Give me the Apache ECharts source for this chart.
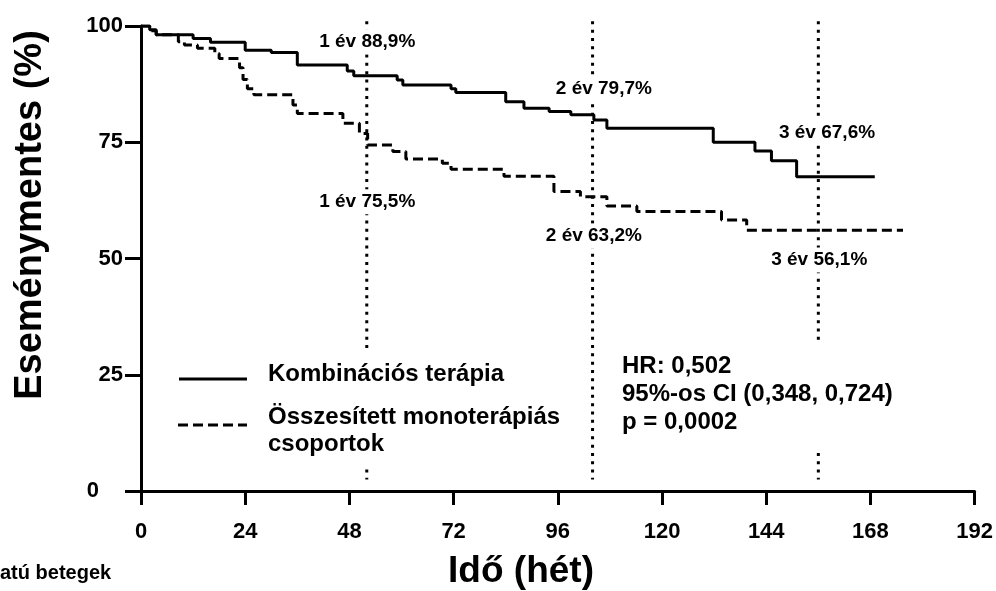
<!DOCTYPE html>
<html>
<head>
<meta charset="utf-8">
<script src="https://cdn.jsdelivr.net/npm/echarts@6/dist/echarts.min.js"></script>
<style>
html,body{margin:0;padding:0;background:#fff;}
#chart{width:996px;height:591px;}
</style>
</head>
<body>
<div id="chart"></div>
<script>
// ---- data ----
const xTicks = [0, 24, 48, 72, 96, 120, 144, 168, 192];
const yTicks = [0, 25, 50, 75, 100];

const comboName = 'Kombinációs terápia';
const comboWeeks = [0, 2, 3.5, 12, 16, 24, 30, 36, 47.5, 49, 59, 60.3, 71.4, 72.5, 84, 88.2, 94, 99, 104.3, 107.3, 131.8, 141.4, 145.2, 151, 169];
const comboSurv  = [100, 99.2, 98.1, 97.3, 96.5, 94.8, 94.3, 91.6, 90.3, 89.3, 88.4, 87.3, 86.5, 85.7, 83.7, 82.3, 81.6, 80.9, 79.8, 78.0, 75.0, 73.1, 71.0, 67.6, 67.6];

const monoName = 'Összesített monoterápiás\ncsoportok';
const monoWeeks = [0, 2, 3.5, 8.6, 10, 13, 17, 18, 22.7, 23.5, 24.5, 26, 35, 36, 46.5, 50.3, 52.2, 58, 61, 69.4, 71.4, 83.6, 95.1, 101.2, 107.3, 114.2, 133.7, 139.5, 175.5];
const monoSurv  = [100, 99, 98.1, 96.6, 95.9, 95.2, 94.1, 93.0, 91, 88.5, 86.5, 85.2, 83.0, 81.2, 79.1, 76.9, 74.4, 73.0, 71.4, 70.5, 69.2, 67.7, 64.4, 63.3, 61.3, 60.1, 58.3, 56.1, 56.1];

const landmarkWeeks = [52, 104, 156];
const landmarkTop = 101;
const landmarkBottom = 2.5;
const comboLandmarkLabels = ['1 év 88,9%', '2 év 79,7%', '3 év 67,6%'];
const monoLandmarkLabels  = ['1 év 75,5%', '2 év 63,2%', '3 év 56,1%'];

const statsText = ['HR: 0,502', '95%-os CI (0,348, 0,724)', 'p = 0,0002'];
const xTitle = 'Idő (hét)';
const yTitle = 'Eseménymentes (%)';
const footText = 'atú betegek';

// ---- chart ----
const FF = '"Liberation Sans", Arial, sans-serif';
const chart = echarts.init(document.getElementById('chart'), null, {renderer: 'canvas'});

const toPairs = (xs, ys) => xs.map((x, i) => [x, ys[i]]);

const landmarkSeries = landmarkWeeks.map(w => ({
  type: 'line', symbol: 'none', silent: true, clip: false, z: 1,
  data: [[w, landmarkTop], [w, landmarkBottom]],
  lineStyle: {color: '#000', width: 3, type: [3, 5.3]}
}));

const option = {
  animation: false,
  backgroundColor: '#fff',
  grid: {left: 141, right: 19, top: 26, bottom: 100, containLabel: false},
  xAxis: {
    type: 'value', min: 0, max: 192, interval: 24,
    axisLine: {show: true, onZero: false, lineStyle: {color: '#000', width: 3}},
    axisTick: {show: true, length: 14, lineStyle: {color: '#000', width: 3}},
    axisLabel: {color: '#000', fontSize: 22, fontWeight: 'bold', fontFamily: FF, margin: 30,
      formatter: v => xTicks.includes(v) ? String(v) : ''},
    splitLine: {show: false}
  },
  yAxis: {
    type: 'value', min: 0, max: 100, interval: 25,
    axisLine: {show: true, onZero: false, lineStyle: {color: '#000', width: 3}},
    axisTick: {show: true, length: 16, lineStyle: {color: '#000', width: 3}},
    axisLabel: {color: '#000', fontSize: 22, fontWeight: 'bold', fontFamily: FF, margin: 18,
      formatter: v => v === 0 ? '{z|0}' : (yTicks.includes(v) ? String(v) : ''),
      rich: {z: {fontSize: 22, fontWeight: 'bold', fontFamily: FF, color: '#000', padding: [0, 24, 0, 0]}}},
    splitLine: {show: false}
  },
  series: landmarkSeries.concat([
    {
      name: comboName, type: 'line', step: 'end', symbol: 'none', z: 5,
      data: toPairs(comboWeeks, comboSurv),
      lineStyle: {color: '#000', width: 3}
    },
    {
      name: monoName, type: 'line', step: 'end', symbol: 'none', z: 5,
      data: toPairs(monoWeeks, monoSurv),
      lineStyle: {color: '#000', width: 3, type: [10, 5]}
    }
  ])
};
chart.setOption(option);

// ---- annotations (positioned via the chart's own scales) ----
const px = (w, v) => chart.convertToPixel({gridIndex: 0}, [w, v]);
const annotFont = {fontSize: 19, fontWeight: 'bold', fontFamily: FF};
const comboLabelAt = [[52.1, 96.6], [106.6, 86.5], [158, 77.1]];
const monoLabelAt  = [[52.1, 62.2], [104.3, 54.8], [156.2, 49.7]];

const graphics = [];
const addLabel = (txt, at) => {
  const p = px(at[0], at[1]);
  graphics.push({type: 'text', z: 100, x: p[0], y: p[1],
    style: Object.assign({text: txt, fill: '#000', align: 'center', verticalAlign: 'middle',
      backgroundColor: '#fff', padding: [3, 3]}, annotFont)});
};
comboLandmarkLabels.forEach((t, i) => addLabel(t, comboLabelAt[i]));
monoLandmarkLabels.forEach((t, i) => addLabel(t, monoLabelAt[i]));

// legend block
graphics.push({type: 'rect', z: 99, shape: {x: 172, y: 352, width: 392, height: 113}, style: {fill: '#fff'}});
graphics.push({type: 'line', z: 100, shape: {x1: 179, y1: 379, x2: 247, y2: 379}, style: {stroke: '#000', lineWidth: 3}});
graphics.push({type: 'line', z: 100, shape: {x1: 178, y1: 425, x2: 247, y2: 425}, style: {stroke: '#000', lineWidth: 3, lineDash: [10, 5]}});
graphics.push({type: 'text', z: 100, x: 268, y: 374,
  style: {text: comboName, fill: '#000', fontSize: 24, fontWeight: 'bold', fontFamily: FF, verticalAlign: 'middle'}});
graphics.push({type: 'text', z: 100, x: 268, y: 404,
  style: {text: monoName, fill: '#000', fontSize: 24, fontWeight: 'bold', fontFamily: FF, verticalAlign: 'top', lineHeight: 27}});

// stats block
graphics.push({type: 'rect', z: 99, shape: {x: 614, y: 340, width: 292, height: 112}, style: {fill: '#fff'}});
graphics.push({type: 'text', z: 100, x: 622, y: 352,
  style: {text: statsText.join('\n'), fill: '#000', fontSize: 24, fontWeight: 'bold', fontFamily: FF, verticalAlign: 'top', lineHeight: 28}});

// axis titles
graphics.push({type: 'text', z: 100, x: 521, y: 572,
  style: {text: xTitle, fill: '#000', fontSize: 37, fontWeight: 'bold', fontFamily: FF, align: 'center', verticalAlign: 'middle'}});
graphics.push({type: 'text', z: 100, x: 31, y: 215, rotation: Math.PI / 2,
  style: {text: yTitle, fill: '#000', fontSize: 38, fontWeight: 'bold', fontFamily: FF, align: 'center', verticalAlign: 'middle'}});
graphics.push({type: 'text', z: 100, x: 0, y: 573,
  style: {text: footText, fill: '#000', fontSize: 20, fontWeight: 'bold', fontFamily: FF, verticalAlign: 'middle'}});

chart.setOption({graphic: {elements: graphics}});
</script>
</body>
</html>
